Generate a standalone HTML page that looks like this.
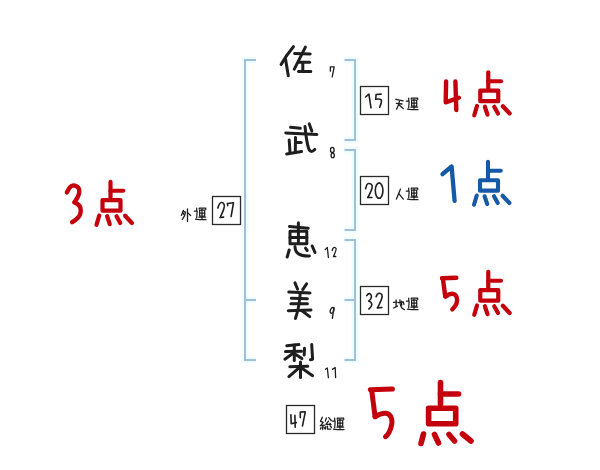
<!DOCTYPE html>
<html><head><meta charset="utf-8"><style>
html,body{margin:0;padding:0;background:#fff;width:600px;height:470px;overflow:hidden;font-family:"Liberation Sans",sans-serif;}
svg{display:block;}
</style></head><body>
<svg width="600" height="470" viewBox="0 0 600 470">
<rect width="600" height="470" fill="#fff"/>
<g fill="none" stroke="#f0fdff" stroke-width="7" stroke-linecap="butt" stroke-linejoin="miter"><path d="M256.00 60.00 L245.00 60.00 L245.00 360.00 L256.00 360.00"/><path d="M245.00 300.00 L256.00 300.00"/><path d="M344.50 60.00 L355.00 60.00 L355.00 140.00 L344.50 140.00"/><path d="M344.50 150.00 L355.00 150.00 L355.00 230.00 L344.50 230.00"/><path d="M344.50 240.00 L355.00 240.00 L355.00 360.00 L344.50 360.00"/><path d="M344.50 300.00 L355.00 300.00"/></g>
<g fill="none" stroke="#9fbfdb" stroke-width="2" stroke-linecap="butt" stroke-linejoin="miter"><path d="M256.00 60.00 L245.00 60.00 L245.00 360.00 L256.00 360.00"/><path d="M245.00 300.00 L256.00 300.00"/><path d="M344.50 60.00 L355.00 60.00 L355.00 140.00 L344.50 140.00"/><path d="M344.50 150.00 L355.00 150.00 L355.00 230.00 L344.50 230.00"/><path d="M344.50 240.00 L355.00 240.00 L355.00 360.00 L344.50 360.00"/><path d="M344.50 300.00 L355.00 300.00"/></g>
<g fill="none" stroke="#2a2a2a" stroke-width="1.3"><rect x="212.5" y="196.5" width="28" height="28"/><rect x="360.5" y="86.5" width="28" height="28"/><rect x="360.5" y="176.5" width="28" height="28"/><rect x="360.5" y="286.5" width="28" height="28"/><rect x="286.5" y="405.5" width="28" height="28"/></g>
<g fill="none" stroke="#1e1e1e" stroke-width="3.0" stroke-linecap="round" stroke-linejoin="round"><path d="M293.40 46.70 Q286.00 55.50 281.10 64.50"/><path d="M285.60 59.50 L288.30 75.80"/><path d="M294.70 53.60 L310.20 53.90"/><path d="M305.40 47.10 L294.30 69.20"/><path d="M299.00 62.30 L309.60 62.30"/><path d="M302.80 62.40 L302.80 71.40"/><path d="M298.40 71.50 L310.80 71.40"/><path d="M290.60 127.30 L300.30 128.30"/><path d="M285.80 132.90 L316.90 134.50"/><path d="M289.20 140.00 L290.00 152.30"/><path d="M295.50 137.60 L295.30 151.50"/><path d="M296.00 142.60 L301.10 142.60"/><path d="M286.70 154.00 L301.60 151.50"/><path d="M305.00 126.50 Q306.50 142.00 308.50 148.00 Q310.50 154.00 314.80 149.40"/><path d="M309.20 123.80 L311.80 131.10"/><path d="M289.50 226.50 L308.30 228.20"/><path d="M298.40 222.80 L298.40 243.50"/><path d="M290.00 231.20 L290.00 243.80 L306.80 243.80 L306.80 231.20 L290.00 231.20"/><path d="M290.00 237.50 L306.80 237.50"/><path d="M289.20 250.00 L287.20 257.00"/><path d="M295.00 246.50 Q295.00 256.50 309.40 256.00"/><path d="M305.50 248.20 L307.20 250.50"/><path d="M312.20 246.00 L315.00 252.50"/><path d="M295.00 282.90 L297.60 289.20"/><path d="M306.60 283.80 L302.70 289.60"/><path d="M288.80 292.10 L310.00 292.90"/><path d="M291.40 298.30 L307.40 298.70"/><path d="M290.90 303.70 L307.40 303.70"/><path d="M288.30 310.80 L311.00 309.90"/><path d="M300.30 292.50 Q299.20 308.00 295.40 318.40"/><path d="M302.00 310.80 L309.70 316.60"/><path d="M286.80 345.80 L298.90 344.60"/><path d="M285.50 351.60 L301.40 351.20"/><path d="M294.30 345.00 L294.30 360.50"/><path d="M293.40 353.00 L284.90 359.20"/><path d="M296.20 354.70 L301.90 358.60"/><path d="M304.50 348.30 L304.20 355.00"/><path d="M311.70 344.60 L312.60 359.20 L310.40 359.70"/><path d="M289.80 366.80 L307.70 366.30"/><path d="M300.50 361.90 L300.50 377.50"/><path d="M298.75 368.10 L288.90 376.60"/><path d="M302.30 368.60 L312.60 375.70"/></g>
<g fill="none" stroke="#1e1e1e" stroke-width="1.3" stroke-linecap="round" stroke-linejoin="round"><path d="M330.40 71.20 L330.30 66.80 L334.20 66.80 L332.20 76.80"/><ellipse cx="332.3" cy="149.9" rx="1.8" ry="2.6"/><ellipse cx="332.7" cy="155.4" rx="1.6" ry="2.3"/><path d="M325.20 249.60 L327.30 247.50 L328.40 257.50"/><path d="M332.20 250.50 Q333.00 247.30 334.30 247.30 Q335.60 247.30 336.05 248.40 Q336.50 249.50 333.50 256.50"/><path d="M333.50 256.50 L335.80 256.50"/><ellipse cx="332.1" cy="310.4" rx="1.7" ry="3.0" transform="rotate(20 332.1 310.4)"/><path d="M333.90 307.30 L332.40 318.40"/><path d="M325.40 369.20 L327.30 368.00 L328.40 377.70"/><path d="M332.40 369.40 L335.20 367.50 L335.60 377.50"/></g>
<g fill="none" stroke="#1e1e1e" stroke-width="1.6" stroke-linecap="round" stroke-linejoin="round"><path d="M217.80 208.00 Q219.50 202.50 221.40 202.55 Q223.30 202.60 224.05 204.30 Q224.80 206.00 223.85 208.85 Q222.90 211.70 220.20 217.50"/><path d="M220.20 217.50 L223.60 217.10"/><path d="M227.70 205.60 L227.40 203.50 L233.50 202.80 L231.10 216.50"/><path d="M365.60 97.00 L368.90 94.10 L371.00 107.90"/><path d="M381.20 94.10 L376.10 94.50 L375.70 99.20"/><path d="M375.70 99.20 Q381.50 98.50 381.50 100.75 Q381.50 103.00 379.70 107.20"/><path d="M365.60 188.80 Q366.80 183.60 368.35 183.45 Q369.90 183.30 371.25 184.15 Q372.60 185.00 372.10 187.80 Q371.60 190.60 367.80 197.50"/><path d="M367.80 197.50 L371.90 197.50"/><ellipse cx="379.1" cy="190.6" rx="3.8" ry="7.7"/><path d="M366.70 295.60 Q368.50 293.00 369.95 293.80 Q371.40 294.60 371.45 296.70 Q371.50 298.80 368.90 301.00"/><path d="M368.90 301.00 Q372.00 302.50 371.80 304.75 Q371.60 307.00 368.90 309.00"/><path d="M376.10 296.70 Q377.20 293.20 379.20 293.20 Q381.20 293.20 381.90 294.75 Q382.60 296.30 381.50 299.20 Q380.40 302.10 377.50 307.90"/><path d="M377.50 307.90 L381.90 307.50"/><path d="M290.90 414.70 L291.20 423.70 L296.30 422.60"/><path d="M294.90 415.40 L295.20 427.30"/><path d="M300.30 417.60 L300.30 412.10 L305.30 411.80 L302.50 425.90"/></g>
<g fill="none" stroke="#1e1e1e" stroke-width="1.3" stroke-linecap="round" stroke-linejoin="round"><g transform="translate(194.50 208.00) scale(0.950)"><path d="M2.30 0.00 L2.30 2.60"/><path d="M-0.20 3.30 L2.80 3.30 L2.30 10.30"/><path d="M1.00 11.60 Q4.00 12.10 12.10 12.30"/><path d="M5.00 1.20 L5.00 0.10 L11.80 0.10 L11.80 1.60"/><path d="M5.40 2.20 L5.40 8.60 L10.70 8.60 L10.70 2.20 L5.40 2.20"/><path d="M5.40 5.40 L10.70 5.40"/><path d="M7.90 1.20 L7.90 11.00"/><path d="M4.60 9.60 L11.80 9.60"/></g><g transform="translate(406.50 98.00) scale(0.950)"><path d="M2.30 0.00 L2.30 2.60"/><path d="M-0.20 3.30 L2.80 3.30 L2.30 10.30"/><path d="M1.00 11.60 Q4.00 12.10 12.10 12.30"/><path d="M5.00 1.20 L5.00 0.10 L11.80 0.10 L11.80 1.60"/><path d="M5.40 2.20 L5.40 8.60 L10.70 8.60 L10.70 2.20 L5.40 2.20"/><path d="M5.40 5.40 L10.70 5.40"/><path d="M7.90 1.20 L7.90 11.00"/><path d="M4.60 9.60 L11.80 9.60"/></g><g transform="translate(406.50 188.00) scale(0.950)"><path d="M2.30 0.00 L2.30 2.60"/><path d="M-0.20 3.30 L2.80 3.30 L2.30 10.30"/><path d="M1.00 11.60 Q4.00 12.10 12.10 12.30"/><path d="M5.00 1.20 L5.00 0.10 L11.80 0.10 L11.80 1.60"/><path d="M5.40 2.20 L5.40 8.60 L10.70 8.60 L10.70 2.20 L5.40 2.20"/><path d="M5.40 5.40 L10.70 5.40"/><path d="M7.90 1.20 L7.90 11.00"/><path d="M4.60 9.60 L11.80 9.60"/></g><g transform="translate(406.50 298.00) scale(0.950)"><path d="M2.30 0.00 L2.30 2.60"/><path d="M-0.20 3.30 L2.80 3.30 L2.30 10.30"/><path d="M1.00 11.60 Q4.00 12.10 12.10 12.30"/><path d="M5.00 1.20 L5.00 0.10 L11.80 0.10 L11.80 1.60"/><path d="M5.40 2.20 L5.40 8.60 L10.70 8.60 L10.70 2.20 L5.40 2.20"/><path d="M5.40 5.40 L10.70 5.40"/><path d="M7.90 1.20 L7.90 11.00"/><path d="M4.60 9.60 L11.80 9.60"/></g><g transform="translate(332.50 418.00) scale(0.950)"><path d="M2.30 0.00 L2.30 2.60"/><path d="M-0.20 3.30 L2.80 3.30 L2.30 10.30"/><path d="M1.00 11.60 Q4.00 12.10 12.10 12.30"/><path d="M5.00 1.20 L5.00 0.10 L11.80 0.10 L11.80 1.60"/><path d="M5.40 2.20 L5.40 8.60 L10.70 8.60 L10.70 2.20 L5.40 2.20"/><path d="M5.40 5.40 L10.70 5.40"/><path d="M7.90 1.20 L7.90 11.00"/><path d="M4.60 9.60 L11.80 9.60"/></g><path d="M183.50 210.30 L181.40 215.50"/><path d="M183.30 211.50 L185.50 212.10 L184.50 215.90 L182.30 219.40"/><path d="M183.30 213.50 L184.30 214.90"/><path d="M187.50 209.00 L187.50 221.60"/><path d="M188.10 213.10 L190.60 215.50"/><path d="M395.80 99.30 L403.10 100.90"/><path d="M396.40 103.40 L402.00 104.00"/><path d="M399.50 101.10 Q398.80 105.00 396.60 109.10"/><path d="M398.60 104.60 L403.20 108.60"/><path d="M400.40 189.20 Q398.60 193.60 396.40 199.10"/><path d="M398.80 193.70 L403.30 199.10"/><path d="M393.50 302.40 L396.90 302.10"/><path d="M396.10 300.00 L396.10 306.40"/><path d="M393.70 308.00 L397.50 306.10"/><path d="M398.00 302.70 L403.30 301.90 L403.90 304.30"/><path d="M399.90 300.00 Q399.90 308.50 404.40 309.60"/><path d="M401.50 301.10 L401.70 305.30"/><path d="M322.40 417.30 L320.50 421.30 L323.20 422.40 L320.80 425.30"/><path d="M320.30 425.60 L324.80 425.10"/><path d="M322.70 425.30 L322.70 429.60"/><path d="M321.10 427.50 L320.50 429.10"/><path d="M324.00 427.20 L324.50 428.30"/><path d="M326.40 417.90 L325.30 421.10"/><path d="M328.80 417.60 L331.20 420.50"/><path d="M328.50 421.10 L325.90 424.30 L330.70 424.30"/><path d="M329.90 423.20 L330.90 424.80"/><path d="M325.90 426.40 L325.30 429.10"/><path d="M327.50 426.10 L327.50 429.10 L330.70 429.10"/><path d="M330.10 425.60 L331.50 427.50"/></g>
<g fill="none" stroke-linecap="round" stroke-linejoin="round"><g transform="translate(110.50 181.75) scale(1.000)" stroke="#c4000c" stroke-width="4.20"><path d="M0.00 0.00 L0.00 17.25"/><path d="M0.00 9.00 L12.75 9.00"/><path d="M-8.00 18.45 L-8.00 28.90 L10.00 28.90 L10.00 18.45 L-8.00 18.45"/><path d="M-11.25 33.75 L-14.00 43.00"/><path d="M-3.40 34.50 L-0.75 42.40"/><path d="M6.00 34.50 L9.75 41.25"/><path d="M14.60 34.00 L21.40 41.25"/></g><g transform="translate(488.25 72.25) scale(1.000)" stroke="#c4000c" stroke-width="4.20"><path d="M0.00 0.00 L0.00 17.25"/><path d="M0.00 9.00 L12.75 9.00"/><path d="M-8.00 18.45 L-8.00 28.90 L10.00 28.90 L10.00 18.45 L-8.00 18.45"/><path d="M-11.25 33.75 L-14.00 43.00"/><path d="M-3.40 34.50 L-0.75 42.40"/><path d="M6.00 34.50 L9.75 41.25"/><path d="M14.60 34.00 L21.40 41.25"/></g><g transform="translate(488.00 161.75) scale(1.000)" stroke="#1659a6" stroke-width="4.10"><path d="M0.00 0.00 L0.00 17.25"/><path d="M0.00 9.00 L12.75 9.00"/><path d="M-8.00 18.45 L-8.00 28.90 L10.00 28.90 L10.00 18.45 L-8.00 18.45"/><path d="M-11.25 33.75 L-14.00 43.00"/><path d="M-3.40 34.50 L-0.75 42.40"/><path d="M6.00 34.50 L9.75 41.25"/><path d="M14.60 34.00 L21.40 41.25"/></g><g transform="translate(488.25 271.75) scale(1.000)" stroke="#c4000c" stroke-width="4.20"><path d="M0.00 0.00 L0.00 17.25"/><path d="M0.00 9.00 L12.75 9.00"/><path d="M-8.00 18.45 L-8.00 28.90 L10.00 28.90 L10.00 18.45 L-8.00 18.45"/><path d="M-11.25 33.75 L-14.00 43.00"/><path d="M-3.40 34.50 L-0.75 42.40"/><path d="M6.00 34.50 L9.75 41.25"/><path d="M14.60 34.00 L21.40 41.25"/></g><g stroke="#c4000c" stroke-width="5.6"><path d="M440.50 382.50 L440.50 404.00"/><path d="M440.50 394.00 L458.50 394.00"/><path d="M428.60 408.20 L428.60 423.80 L455.70 423.80 L455.70 408.20 L428.60 408.20"/><path d="M423.50 434.00 L421.00 443.50"/><path d="M434.50 434.50 L438.50 443.00"/><path d="M449.00 434.50 L454.50 441.00"/><path d="M462.50 434.00 L471.00 441.00"/></g><g stroke="#c4000c" stroke-width="4.4"><path d="M66.90 192.40 Q69.80 186.20 72.50 185.70 Q75.20 185.20 77.30 186.70 Q79.40 188.20 79.30 191.85 Q79.20 195.50 74.50 202.30"/><path d="M74.50 202.30 Q79.50 204.60 80.35 207.55 Q81.20 210.50 80.20 214.05 Q79.20 217.60 72.20 222.20"/><path d="M446.10 81.50 L445.70 102.40 L458.90 97.70"/><path d="M455.40 81.50 L456.30 110.00"/><path d="M456.30 277.80 L442.00 278.30"/><path d="M442.90 278.70 L445.20 296.10"/><path d="M445.40 296.60 Q450.20 293.30 452.95 293.85 Q455.70 294.40 456.65 297.15 Q457.60 299.90 456.65 303.15 Q455.70 306.40 452.30 309.30"/></g><g stroke="#c4000c" stroke-width="5.0"><path d="M392.40 389.00 L370.30 389.70"/><path d="M371.70 390.40 L375.10 416.70"/><path d="M375.10 416.70 Q381.40 413.00 385.55 413.35 Q389.70 413.70 391.25 417.60 Q392.80 421.50 390.90 427.75 Q389.00 434.00 385.50 436.70"/></g><g stroke="#1659a6" stroke-width="4.3"><path d="M442.50 174.20 L451.60 166.50 L454.60 200.90"/></g></g>
</svg>
</body></html>
